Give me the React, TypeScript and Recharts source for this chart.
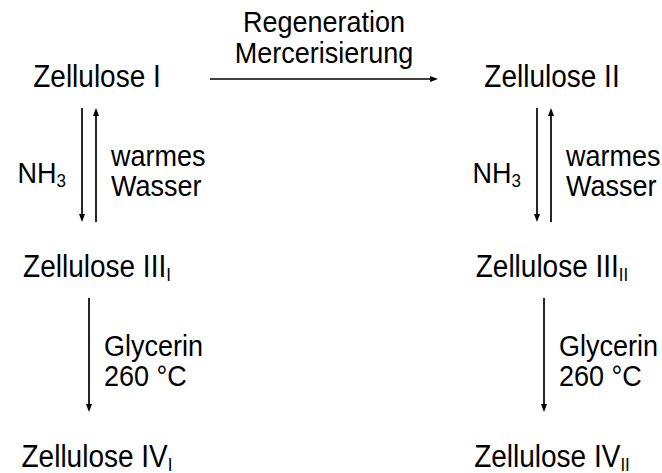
import React from 'react';
import { ScatterChart, Scatter, XAxis, YAxis, ReferenceLine } from 'recharts';

// nodes of the scheme
const nodeNames = ['Zellulose I', 'Zellulose II', 'Zellulose III', 'Zellulose III', 'Zellulose IV', 'Zellulose IV'];
const nodeSubs = ['', '', 'I', 'II', 'I', 'II'];
const nodeCols = [0, 1, 0, 1, 0, 1];
const nodeRows = [0, 0, 1, 1, 2, 2];

// arrows, as indices into the node arrays
const arrowFrom = [0, 0, 2, 1, 3, 2, 3];
const arrowTo = [1, 2, 0, 3, 1, 4, 5];
const arrowLane = [0, -1, 1, -1, 1, 0, 0];
const arrowSide = ['top', 'left', 'right', 'left', 'right', 'right', 'right'];
const arrowLabels = [
  ['Regeneration', 'Mercerisierung'],
  ['NH'],
  ['warmes', 'Wasser'],
  ['NH'],
  ['warmes', 'Wasser'],
  ['Glycerin', '260 °C'],
  ['Glycerin', '260 °C'],
];
const arrowLabelSubs = ['', '3', '', '3', '', '', ''];

const W = 662;
const H = 473;
const COL0 = 89;
const COL1 = 544;
const ROW0 = 78;
const ROW_STEP = 190;
const FONT = '"Liberation Sans", Arial, sans-serif';
const STRETCH = 1.1;

const colStep = COL1 - COL0;
const xDomain = [-COL0 / colStep, (W - COL0) / colStep];
const yDomain = [-ROW0 / ROW_STEP, (H - ROW0) / ROW_STEP];

const nodeData = nodeNames.map((name, i) => ({
  name,
  sub: nodeSubs[i],
  x: nodeCols[i],
  y: nodeRows[i],
}));

// text slightly stretched upwards, closer to the taller LaTeX sans glyphs
const SText = ({ x, y, size, anchor, text, sub }: any) => (
  <g transform={`translate(${x},${y}) scale(1,${STRETCH})`}>
    <text x={0} y={0} fontSize={size} fontFamily={FONT} fill="#000" textAnchor={anchor}>
      {text}
      {sub ? (
        <tspan fontSize={17} dy={4}>
          {sub}
        </tspan>
      ) : null}
    </text>
  </g>
);

const NodeLabel = (props: any) => {
  const { cx, cy, payload } = props;
  return <SText x={cx + 8} y={cy + 9} size={28} anchor="middle" text={payload.name} sub={payload.sub} />;
};

const ArrowShape = (props: any) => {
  const { x1, y1, x2, y2, idx } = props;
  const horizontal = Math.abs(y1 - y2) < 1;
  let sx: number, sy: number, ex: number, ey: number;
  if (horizontal) {
    sx = x1 + 121;
    ex = x2 - 106;
    sy = ey = y1 + 1;
  } else {
    const lane = arrowLane[idx] * 7;
    sx = ex = x1 + lane;
    const down = y2 > y1;
    sy = down ? y1 + 30 : y1 - 46;
    ey = down ? y2 - 46 : y2 + 30;
  }
  const len = Math.hypot(ex - sx, ey - sy);
  const ux = (ex - sx) / len;
  const uy = (ey - sy) / len;
  const hl = 8;
  const hw = 3;
  const head = [
    [ex, ey],
    [ex - ux * hl - uy * hw, ey - uy * hl + ux * hw],
    [ex - ux * hl + uy * hw, ey - uy * hl - ux * hw],
  ]
    .map((p) => p.join(','))
    .join(' ');

  const lines = arrowLabels[idx];
  const sub = arrowLabelSubs[idx];
  const side = arrowSide[idx];
  const mx = (sx + ex) / 2;
  const my = (sy + ey) / 2;

  const labels = lines.map((t, i) => {
    let x = mx;
    let y = my;
    let anchor = 'middle';
    if (side === 'top') {
      y = sy - 16 - (lines.length - 1 - i) * 31;
    } else if (side === 'left') {
      x = sx - 16;
      anchor = 'end';
      y = my + 18 - (lines.length - 1) * 15 + i * 30;
    } else {
      x = sx + 15;
      anchor = 'start';
      y = my + 1 + i * 30;
    }
    return <SText key={i} x={x} y={y} size={27} anchor={anchor} text={t} sub={i === 0 ? sub : ''} />;
  });

  return (
    <g>
      <line x1={sx} y1={sy} x2={ex - ux * 6} y2={ey - uy * 6} stroke="#000" strokeWidth={1.7} />
      <polygon points={head} fill="#000" />
      {labels}
    </g>
  );
};

export default function App() {
  return (
    <div style={{ position: 'absolute', left: 0, top: 0, width: W, height: H, background: '#fff' }}>
      <ScatterChart width={W} height={H} margin={{ top: 0, right: 0, bottom: 0, left: 0 }}>
        <XAxis type="number" dataKey="x" domain={xDomain} allowDataOverflow hide />
        <YAxis type="number" dataKey="y" domain={yDomain} allowDataOverflow reversed hide />
        {arrowFrom.map((f, i) => (
          <ReferenceLine
            key={i}
            segment={[
              { x: nodeCols[f], y: nodeRows[f] },
              { x: nodeCols[arrowTo[i]], y: nodeRows[arrowTo[i]] },
            ]}
            ifOverflow="visible"
            shape={(p: any) => <ArrowShape {...p} idx={i} />}
          />
        ))}
        <Scatter data={nodeData} isAnimationActive={false} shape={(p: any) => <NodeLabel {...p} />} />
      </ScatterChart>
    </div>
  );
}
